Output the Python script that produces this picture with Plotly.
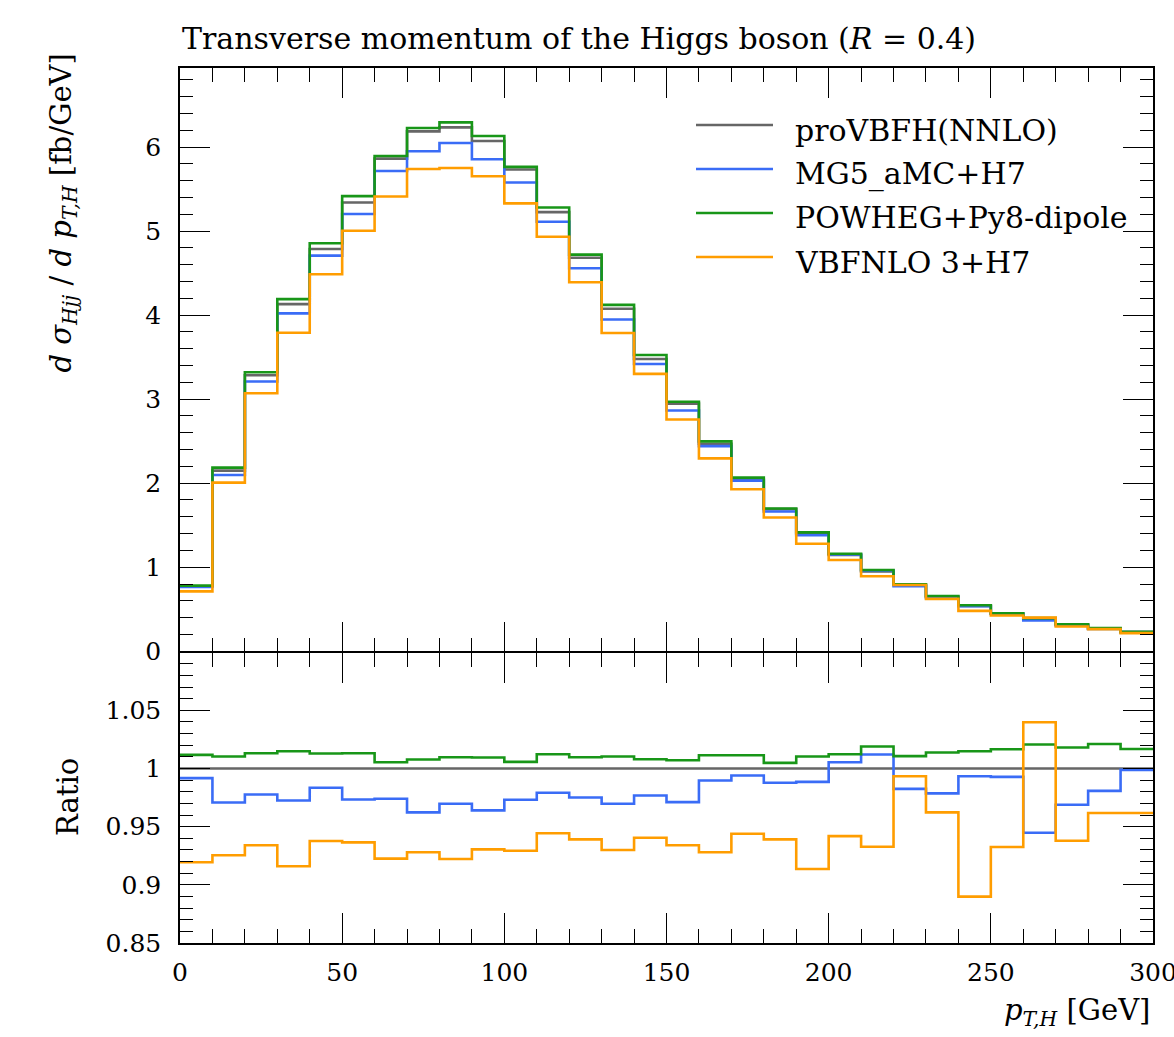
import plotly.graph_objects as go

# Higgs transverse momentum bins [GeV]
bin_edges = list(range(0, 310, 10))

# d sigma / d pT,H  [fb/GeV] per 10 GeV bin
provbfh_nnlo = [0.772, 2.149, 3.284, 4.13, 4.786, 5.340, 5.862, 6.186, 6.234, 6.071,
                5.732, 5.225, 4.683, 4.075, 3.478, 2.947, 2.469, 2.043, 1.691, 1.400,
                1.146, 0.949, 0.789, 0.649, 0.540, 0.446, 0.386, 0.316, 0.269, 0.227]
mg5_h7 = [0.765, 2.097, 3.209, 4.02, 4.707, 5.202, 5.715, 5.949, 6.048, 5.854,
          5.578, 5.110, 4.557, 3.948, 3.418, 2.865, 2.441, 2.030, 1.663, 1.382,
          1.152, 0.960, 0.775, 0.635, 0.536, 0.443, 0.365, 0.306, 0.264, 0.227]
powheg_py8 = [0.781, 2.185, 3.319, 4.19, 4.854, 5.415, 5.893, 6.226, 6.293, 6.130,
              5.763, 5.281, 4.719, 4.122, 3.525, 2.968, 2.497, 2.066, 1.699, 1.414,
              1.160, 0.967, 0.797, 0.658, 0.548, 0.453, 0.394, 0.322, 0.275, 0.231]
vbfnlo_h7 = [0.712, 2.007, 3.070, 3.79, 4.486, 5.004, 5.411, 5.739, 5.751, 5.652,
             5.329, 4.932, 4.391, 3.786, 3.300, 2.758, 2.295, 1.928, 1.592, 1.279,
             1.085, 0.892, 0.789, 0.623, 0.480, 0.425, 0.400, 0.294, 0.263, 0.216]

# Ratios to proVBFH(NNLO)
ratio_nnlo = [1.0] * 30
ratio_mg5 = [0.9917, 0.9708, 0.9777, 0.9725, 0.9834, 0.9734, 0.9740, 0.9623, 0.9697, 0.9640,
             0.9731, 0.9791, 0.9751, 0.9697, 0.9768, 0.9711, 0.9897, 0.9940, 0.9877, 0.9885,
             1.0054, 1.0120, 0.9825, 0.9786, 0.9934, 0.9928, 0.9448, 0.9688, 0.9808, 0.9988]
ratio_powheg = [1.0117, 1.0103, 1.0131, 1.0148, 1.0129, 1.0131, 1.0054, 1.0077, 1.0097, 1.0094,
                1.0057, 1.0123, 1.0097, 1.0103, 1.0080, 1.0071, 1.0114, 1.0114, 1.0048, 1.0103,
                1.0123, 1.0189, 1.0106, 1.0137, 1.0148, 1.0166, 1.0206, 1.0180, 1.0211, 1.0168]
ratio_vbfnlo = [0.9194, 0.9254, 0.9340, 0.9160, 0.9377, 0.9365, 0.9225, 0.9280, 0.9222, 0.9305,
                0.9293, 0.9443, 0.9391, 0.9299, 0.9405, 0.9340, 0.9280, 0.9439, 0.9391, 0.9136,
                0.9419, 0.9328, 0.9934, 0.9623, 0.8899, 0.9325, 1.0397, 0.9379, 0.9617, 0.9617]

series_names = ["proVBFH(NNLO)", "MG5_aMC+H7", "POWHEG+Py8-dipole", "VBFNLO 3+H7"]
colors = ["#666666", "#3a6cf6", "#189618", "#ff9d00"]
main_values = [provbfh_nnlo, mg5_h7, powheg_py8, vbfnlo_h7]
ratio_values = [ratio_nnlo, ratio_mg5, ratio_powheg, ratio_vbfnlo]

FONT = "DejaVu Serif"
W, H = 1174, 1037
ML, MR, MT, MB = 180, 21, 68, 94
PW, PH = W - ML - MR, H - MT - MB
split_px = 652  # boundary between main and ratio panel
LW = 1.5        # frame line width


def px_x(px):
    return (px - ML) / PW


def px_y(py):
    return (H - MB - py) / PH


fig = go.Figure()

for name, col, vals in zip(series_names, colors, main_values):
    fig.add_trace(go.Scatter(
        x=bin_edges, y=vals + [vals[-1]], mode="lines", line_shape="hv",
        line=dict(color=col, width=2.6), name=name, showlegend=False,
        xaxis="x", yaxis="y"))

for name, col, vals in zip(series_names, colors, ratio_values):
    fig.add_trace(go.Scatter(
        x=bin_edges, y=vals + [vals[-1]], mode="lines", line_shape="hv",
        line=dict(color=col, width=2.6), name=name, showlegend=False,
        xaxis="x2", yaxis="y2"))

# shared frame line between the panels: overlap the two domains by one line width
half = (LW / 2) / PH
split = px_y(split_px)

axis_common = dict(
    showline=True, linecolor="black", linewidth=LW, mirror="allticks",
    ticks="inside", tickcolor="black", tickwidth=1.3,
    showgrid=False, zeroline=False, automargin=False,
    tickfont=dict(family=FONT, size=25, color="black"),
)

fig.update_layout(
    width=W, height=H,
    margin=dict(l=ML, r=MR, t=MT, b=MB, autoexpand=False),
    plot_bgcolor="white", paper_bgcolor="white",
    xaxis=dict(axis_common, range=[0, 300], dtick=50, ticklen=30,
               minor=dict(dtick=10, ticklen=14, tickcolor="black", tickwidth=1.3, ticks="inside"),
               showticklabels=False, anchor="y", domain=[0, 1]),
    yaxis=dict(axis_common, range=[0, 6.94], dtick=1, ticklen=30,
               minor=dict(dtick=0.2, ticklen=13, tickcolor="black", tickwidth=1.3, ticks="inside"),
               anchor="x", domain=[split + half, 1], ticklabelstandoff=12),
    xaxis2=dict(axis_common, range=[0, 300], dtick=50, ticklen=30,
                minor=dict(dtick=10, ticklen=14, tickcolor="black", tickwidth=1.3, ticks="inside"),
                anchor="y2", domain=[0, 1], ticklabelstandoff=6,
                ticklabeloverflow="allow"),
    yaxis2=dict(axis_common, range=[0.85, 1.0995], dtick=0.05, tick0=0.85, ticklen=30,
                minor=dict(dtick=0.01, ticklen=13, tickcolor="black", tickwidth=1.3, ticks="inside"),
                anchor="x2", domain=[0, split - half], ticklabelstandoff=12),
    showlegend=False,
)

annotations = [
    dict(text="Transverse momentum of the Higgs boson (<i>R</i> = 0.4)",
         x=px_x(180), y=px_y(38), xanchor="left", yanchor="middle",
         font=dict(family=FONT, size=30, color="black")),
    dict(text="<i>d σ<sub>Hjj</sub></i> / <i>d p<sub>T,H</sub></i> [fb/GeV]",
         x=px_x(62), y=px_y(52), xanchor="center", yanchor="top", textangle=-90,
         font=dict(family=FONT, size=29, color="black")),
    dict(text="Ratio", x=px_x(68), y=px_y(797), xanchor="center", yanchor="middle",
         textangle=-90, font=dict(family=FONT, size=29, color="black")),
    dict(text="<i>p<sub>T,H</sub></i> [GeV]", x=px_x(1152), y=px_y(1012),
         xanchor="right", yanchor="middle",
         font=dict(family=FONT, size=29, color="black")),
]

# Legend drawn as line samples with labels in the upper right of the main panel
shapes = []
row_y = [125, 169, 213, 257]
for lab, col, ry in zip(series_names, colors, row_y):
    shapes.append(dict(type="line", xref="paper", yref="paper",
                       x0=px_x(696), x1=px_x(773), y0=px_y(ry), y1=px_y(ry),
                       line=dict(color=col, width=2.6)))
    annotations.append(dict(text=lab, x=px_x(793), y=px_y(ry + 5),
                            xanchor="left", yanchor="middle",
                            font=dict(family=FONT, size=30, color="black")))

for a in annotations:
    a.setdefault("xref", "paper")
    a.setdefault("yref", "paper")
    a["showarrow"] = False

fig.update_layout(annotations=annotations, shapes=shapes)

fig.write_html("out.html")
